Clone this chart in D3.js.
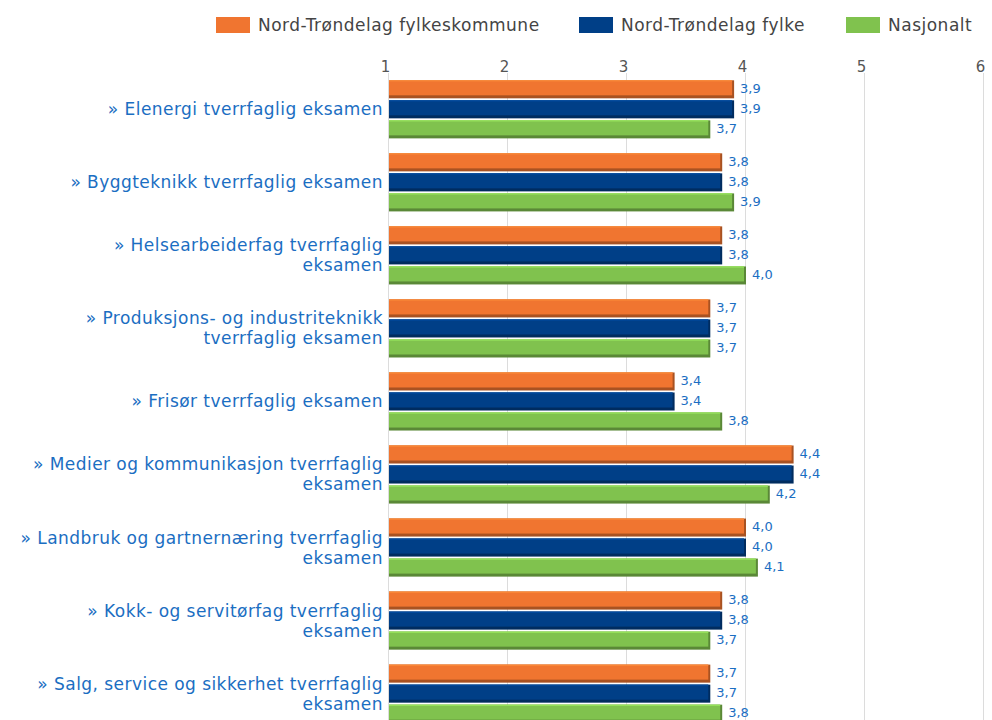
<!DOCTYPE html>
<html>
<head>
<meta charset="utf-8">
<script src="https://cdn.jsdelivr.net/npm/d3@7"></script>
<style>
  body { margin: 0; background: #fff; }
  text { font-family: "DejaVu Sans", Verdana, sans-serif; }
</style>
</head>
<body>
<div id="chart"></div>
<script>
// data
var categories = [
  ["» Elenergi tverrfaglig eksamen"],
  ["» Byggteknikk tverrfaglig eksamen"],
  ["» Helsearbeiderfag tverrfaglig", "eksamen"],
  ["» Produksjons- og industriteknikk", "tverrfaglig eksamen"],
  ["» Frisør tverrfaglig eksamen"],
  ["» Medier og kommunikasjon tverrfaglig", "eksamen"],
  ["» Landbruk og gartnernæring tverrfaglig", "eksamen"],
  ["» Kokk- og servitørfag tverrfaglig", "eksamen"],
  ["» Salg, service og sikkerhet tverrfaglig", "eksamen"]
];
var seriesNames = ["Nord-Trøndelag fylkeskommune", "Nord-Trøndelag fylke", "Nasjonalt"];
var fylkeskommune = [3.9, 3.8, 3.8, 3.7, 3.4, 4.4, 4.0, 3.8, 3.7];
var fylke = [3.9, 3.8, 3.8, 3.7, 3.4, 4.4, 4.0, 3.8, 3.7];
var nasjonalt = [3.7, 3.9, 4.0, 3.7, 3.8, 4.2, 4.1, 3.7, 3.8];
var tickValues = [1, 2, 3, 4, 5, 6];
var colors = ["#f07530", "#003f87", "#80c24e"];

var series = [fylkeskommune, fylke, nasjonalt];

var width = 992, height = 720;
var margin = {top: 73, left: 389, right: 8};

var svg = d3.select("#chart").append("svg")
  .attr("width", width)
  .attr("height", height);

var x = d3.scaleLinear()
  .domain([1, 6])
  .range([margin.left, margin.left + 5 * 119]);

var y0 = d3.scaleBand()
  .domain(d3.range(categories.length))
  .range([margin.top, margin.top + categories.length * 73])
  .paddingInner(0.205)
  .paddingOuter(0.1);

var y1 = d3.scaleBand()
  .domain(d3.range(series.length))
  .range([0, y0.bandwidth()])
  .paddingInner(0.1);

// gridlines
svg.append("g")
  .selectAll("line")
  .data(tickValues)
  .enter().append("line")
  .attr("x1", function(d) { return Math.round(x(d)) - 0.5; })
  .attr("x2", function(d) { return Math.round(x(d)) - 0.5; })
  .attr("y1", margin.top)
  .attr("y2", height)
  .attr("stroke", "#dcdcdc")
  .attr("stroke-width", 1);

// top axis labels
var xAxis = d3.axisTop(x).tickValues(tickValues).tickFormat(d3.format("d")).tickSize(0).tickPadding(0);
var ax = svg.append("g")
  .attr("transform", "translate(-4," + 72 + ")")
  .call(xAxis);
ax.select(".domain").remove();
ax.selectAll("text")
  .attr("fill", "#555")
  .style("font-size", "15px")
  .style("font-family", "'DejaVu Sans', Verdana, sans-serif");

// bars
var groups = svg.append("g")
  .selectAll("g")
  .data(categories)
  .enter().append("g")
  .attr("transform", function(d, i) { return "translate(0," + y0(i) + ")"; });

groups.each(function(cat, ci) {
  var g = d3.select(this);
  series.forEach(function(vals, si) {
    var v = vals[ci];
    var bx = x(1), bw = x(v) - x(1);
    var by = y1(si), bh = y1.bandwidth();
    var c = d3.color(colors[si]);
    g.append("rect")
      .attr("x", bx).attr("y", by)
      .attr("width", bw).attr("height", bh)
      .attr("fill", c.darker(1));
    g.append("rect")
      .attr("x", bx).attr("y", by)
      .attr("width", bw - 2).attr("height", bh - 3)
      .attr("fill", c);
    g.append("rect")
      .attr("x", bx).attr("y", by)
      .attr("width", bw - 2).attr("height", 1)
      .attr("fill", c.brighter(0.6));
    g.append("text")
      .attr("x", x(v) + 6)
      .attr("y", by + bh / 2 - 1)
      .attr("dy", "0.35em")
      .attr("fill", "#1b6ec2")
      .style("font-size", "13px")
      .text(d3.format(".1f")(v).replace(".", ","));
  });

  // category label
  var mid = y0.bandwidth() / 2;
  var t = g.append("text")
    .attr("x", margin.left - 6)
    .attr("text-anchor", "end")
    .attr("fill", "#1b6ec2")
    .style("font-size", "17px")
    .style("letter-spacing", "0.45px");
  cat.forEach(function(line, li) {
    t.append("tspan")
      .attr("x", margin.left - 6)
      .attr("y", mid + (li - (cat.length - 1) / 2) * 20)
      .attr("dy", "0.35em")
      .text(line);
  });
});

// legend
var legendX = [216, 579, 846];
var legend = svg.append("g")
  .selectAll("g")
  .data(seriesNames)
  .enter().append("g")
  .attr("transform", function(d, i) { return "translate(" + legendX[i] + ",17)"; });
legend.append("rect")
  .attr("width", 34).attr("height", 16)
  .attr("fill", function(d, i) { return colors[i]; });
legend.append("text")
  .attr("x", 42).attr("y", 8)
  .attr("dy", "0.35em")
  .attr("fill", "#444")
  .style("font-size", "17px")
  .style("letter-spacing", "0.5px")
  .text(function(d) { return d; });
</script>
</body>
</html>
